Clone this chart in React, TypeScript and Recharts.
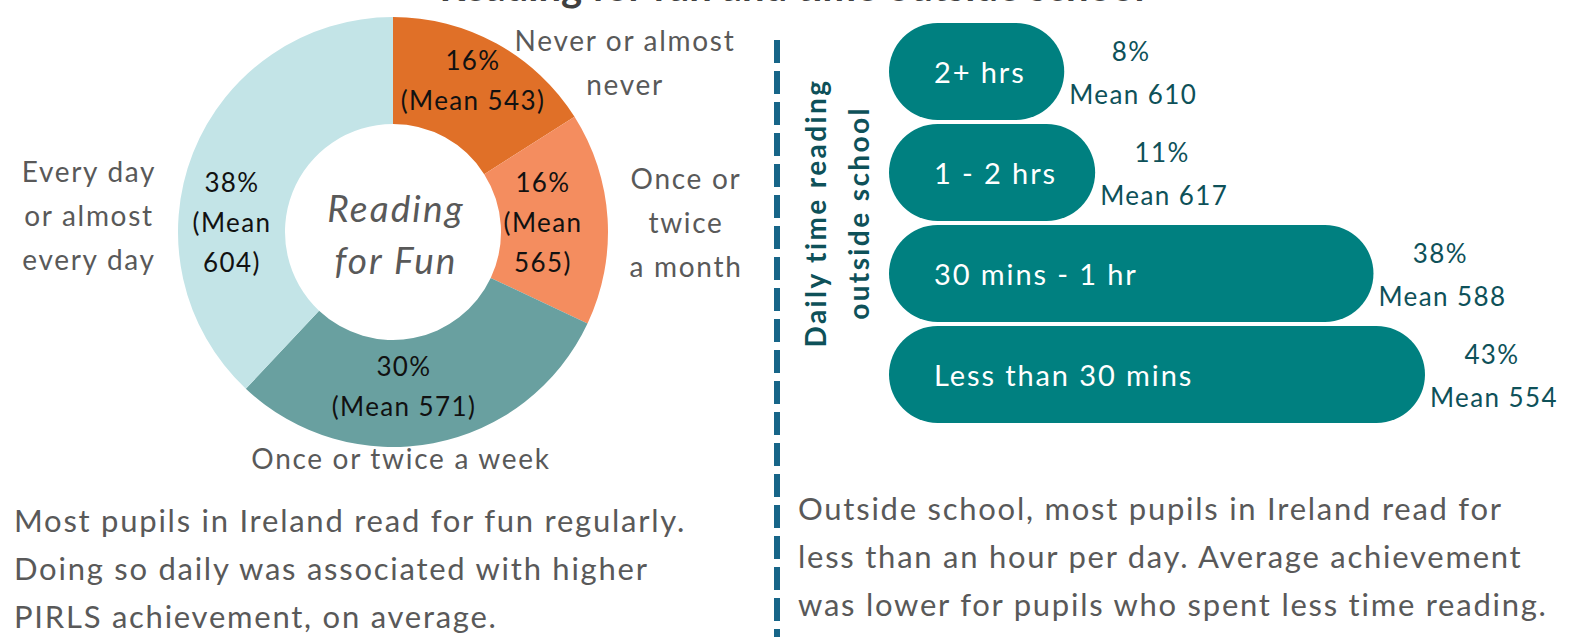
import React from 'react'
import { PieChart, Pie, Cell, BarChart, Bar, XAxis, YAxis } from 'recharts'

// reading for fun (donut)
const funCategories = ['Never or almost never', 'Once or twice a month', 'Once or twice a week', 'Every day or almost every day']
const funPercent = [16, 16, 30, 38]
const funMean = [543, 565, 571, 604]

// daily time reading outside school (bars)
const timeCategories = ['2+ hrs', '1 - 2 hrs', '30 mins - 1 hr', 'Less than 30 mins']
const timePercent = [8, 11, 38, 43]
const timeMean = [610, 617, 588, 554]

const FONT = 'Lato, "Noto Sans", sans-serif'
const pieColors = ['#E07028', '#F48D5F', '#69A0A0', '#C3E4E7']
const TEAL = '#008080'
const DARK_TEAL = '#0E5159'
const GREY = '#595959'

// label layout for the donut, relative to the centre
const innerLayout = [
  { dx: 80, dy: -152, wrap: false },
  { dx: 150, dy: -10, wrap: true },
  { dx: 11, dy: 154, wrap: false },
  { dx: -161, dy: -10, wrap: true },
]
const outerLayout = [
  { dx: 232, dy: -170, lines: ['Never or almost', 'never'] },
  { dx: 293, dy: -10, lines: ['Once or', 'twice', 'a month'] },
  { dx: 8, dy: 226, lines: ['Once or twice a week'] },
  { dx: -304, dy: -17, lines: ['Every day', 'or almost', 'every day'] },
]

const pieData = funCategories.map((name, i) => ({ name, value: funPercent[i], mean: funMean[i] }))
const barData = timeCategories.map((name, i) => ({ name, value: timePercent[i], mean: timeMean[i] }))

function TextBlock({ x, y, lines, lh, fill, size, ls }: any) {
  const top = y - ((lines.length - 1) * lh) / 2
  return (
    <text x={x} y={top} fill={fill} fontSize={size} fontFamily={FONT} letterSpacing={ls} textAnchor="middle" dominantBaseline="central">
      {lines.map((l: string, i: number) => (
        <tspan key={i} x={x} y={top + i * lh}>{l}</tspan>
      ))}
    </text>
  )
}

const renderPieLabel = (props: any) => {
  const { cx, cy, index, value, payload } = props
  const inner = innerLayout[index]
  const outer = outerLayout[index]
  const mean = payload?.mean ?? funMean[index]
  const innerLines = inner.wrap ? [`${value}%`, '(Mean', `${mean})`] : [`${value}%`, `(Mean ${mean})`]
  return (
    <g>
      <TextBlock x={cx + inner.dx} y={cy + inner.dy} lines={innerLines} lh={40} fill="#111" size={26} ls={1.4} />
      <TextBlock x={cx + outer.dx} y={cy + outer.dy} lines={outer.lines} lh={44} fill={GREY} size={28} ls={1.7} />
    </g>
  )
}

const PillBar = (props: any) => {
  const { x, y, width, height, background, payload } = props
  const bx = background?.x ?? x
  const right = x + width
  const midY = y + height / 2
  const r = height / 2
  return (
    <g>
      <rect x={bx} y={y} width={right - bx} height={height} rx={r} ry={r} fill={TEAL} />
      <text x={bx + 45} y={midY} fill="#fff" fontSize={29} letterSpacing={1.9} fontFamily={FONT} dominantBaseline="central">
        {payload.name}
      </text>
      <text x={right + 67} y={midY - 21} fill={DARK_TEAL} fontSize={26} letterSpacing={1.4} fontFamily={FONT} textAnchor="middle" dominantBaseline="central">
        {payload.value}%
      </text>
      <text x={right + 69} y={midY + 22} fill={DARK_TEAL} fontSize={26} letterSpacing={1.4} fontFamily={FONT} textAnchor="middle" dominantBaseline="central">
        Mean {payload.mean}
      </text>
    </g>
  )
}

export default function App() {
  const para = { position: 'absolute' as const, fontSize: 31, letterSpacing: 1.75, lineHeight: '48px', color: GREY, whiteSpace: 'nowrap' as const }
  return (
    <div style={{ position: 'absolute', left: 0, top: 0, width: 1569, height: 637, background: '#fff', overflow: 'hidden', fontFamily: FONT }}>
      <svg width={1569} height={637} style={{ position: 'absolute', left: 0, top: 0 }}>
        <text x={792} y={1} fill="#404040" fontSize={40} fontWeight={700} fontFamily={FONT} textAnchor="middle">
          Reading for fun and time outside school
        </text>
        <line x1={777} y1={40} x2={777} y2={637} stroke="#176588" strokeWidth={6} strokeDasharray="23 8" />
        <text transform="translate(836 213) rotate(-90)" fill={DARK_TEAL} fontSize={28} letterSpacing={2.4} fontWeight={700} fontFamily={FONT} textAnchor="middle">
          <tspan x={0} y={-21} dominantBaseline="central">Daily time reading</tspan>
          <tspan x={0} y={22} dominantBaseline="central">outside school</tspan>
        </text>
      </svg>

      <div style={{ position: 'absolute', left: 0, top: 0 }}>
        <PieChart width={760} height={480} margin={{ top: 0, right: 0, bottom: 0, left: 0 }}>
          <Pie
            data={pieData}
            dataKey="value"
            nameKey="name"
            cx={393}
            cy={232}
            innerRadius={108}
            outerRadius={215}
            startAngle={90}
            endAngle={-270}
            stroke="none"
            label={renderPieLabel}
            labelLine={false}
            isAnimationActive={false}
          >
            {pieData.map((d, i) => (
              <Cell key={d.name} fill={pieColors[i]} />
            ))}
          </Pie>
          <text x={396} y={207} fill={GREY} fontSize={37} letterSpacing={2.1} fontStyle="italic" fontFamily={FONT} textAnchor="middle" dominantBaseline="central">Reading</text>
          <text x={396} y={259} fill={GREY} fontSize={37} letterSpacing={2.1} fontStyle="italic" fontFamily={FONT} textAnchor="middle" dominantBaseline="central">for Fun</text>
        </PieChart>
      </div>

      <div style={{ position: 'absolute', left: 880, top: 0 }}>
        <BarChart
          width={689}
          height={440}
          data={barData}
          layout="vertical"
          barSize={97}
          margin={{ top: 21, right: 144, bottom: 15, left: 9 }}
        >
          <XAxis type="number" domain={[-9, 43]} hide />
          <YAxis type="category" dataKey="name" hide />
          <Bar dataKey="value" shape={<PillBar />} isAnimationActive={false} />
        </BarChart>
      </div>

      <div style={{ ...para, left: 14, top: 496 }}>
        Most pupils in Ireland read for fun regularly.<br />
        Doing so daily was associated with higher<br />
        PIRLS achievement, on average.
      </div>
      <div style={{ ...para, left: 798, top: 484 }}>
        Outside school, most pupils in Ireland read for<br />
        less than an hour per day. Average achievement<br />
        was lower for pupils who spent less time reading.
      </div>
    </div>
  )
}
